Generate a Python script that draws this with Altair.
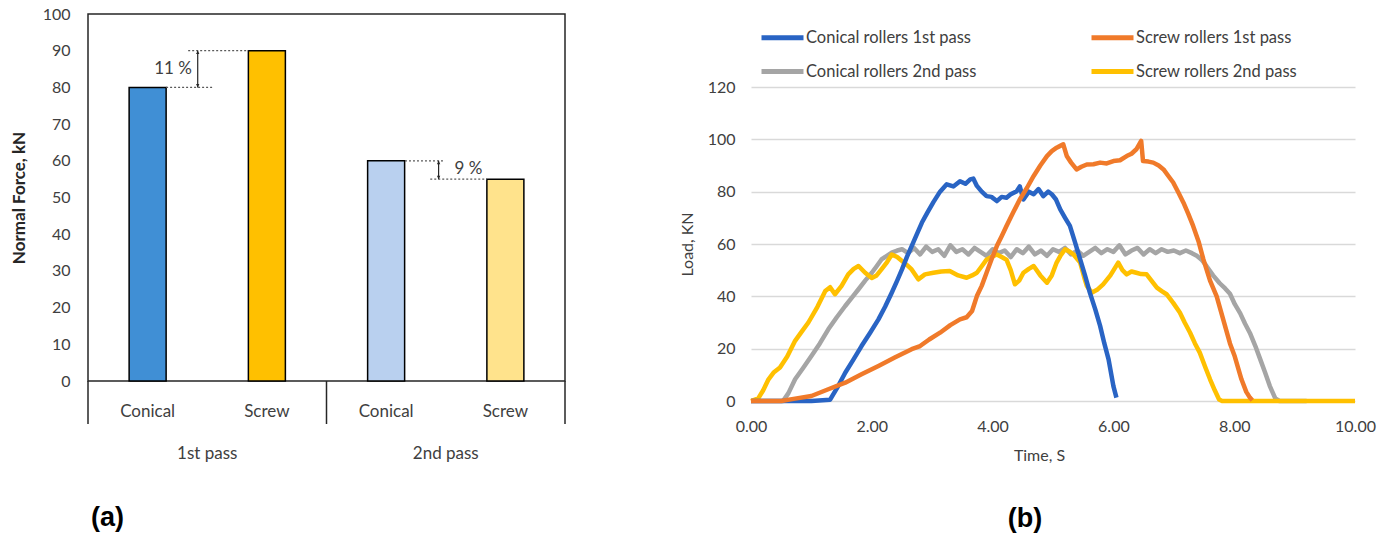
import altair as alt
import pandas as pd

FONT = "Lato"
TXT = "#404040"

# ---------------- Panel (a) data ----------------
bar_keys = ["1st pass|Conical", "1st pass|Screw", "2nd pass|Conical", "2nd pass|Screw"]
bar_cats = ["Conical", "Screw", "Conical", "Screw"]
bar_pass = ["1st pass", "1st pass", "2nd pass", "2nd pass"]
bar_force = [80, 90, 60, 55]
bar_colors = ["#408FD5", "#FFC000", "#B9D0EF", "#FFE38C"]
pass_names = ["1st pass", "2nd pass"]
pct_labels = ["11 %", "9 %"]
pct_hi = [90, 60]
pct_lo = [80, 55]

# ---------------- Panel (b) data ----------------
series_names = ["Conical rollers 1st pass", "Screw rollers 1st pass",
                "Conical rollers 2nd pass", "Screw rollers 2nd pass"]
series_colors = ["#2964C4", "#F07A2A", "#A5A5A5", "#FFC000"]

blue_t = [0.00, 1.00, 1.31, 1.45, 1.56, 1.70, 1.83, 1.97, 2.11, 2.22, 2.33, 2.42, 2.50, 2.58, 2.66, 2.75,
          2.83, 2.92, 3.02, 3.13, 3.24, 3.35, 3.46, 3.55, 3.63, 3.68, 3.74, 3.82, 3.90, 3.98, 4.07, 4.15,
          4.23, 4.30, 4.40, 4.45, 4.51, 4.60, 4.68, 4.76, 4.84, 4.92, 4.98, 5.05, 5.12, 5.20, 5.28, 5.36,
          5.45, 5.53, 5.61, 5.70, 5.78, 5.85, 5.92, 6.00, 6.05]
blue_L = [0, 0, 0.5, 6, 10.8, 16, 21, 26, 31.2, 36, 41.4, 46, 50.3, 55, 59.2, 64,
          68.2, 72, 76, 80, 82.8, 82, 84, 83, 84.7, 85, 82.2, 80, 78.3, 78, 76.4, 78,
          77.7, 79, 80.2, 82, 77, 80, 79, 81, 78.3, 80, 79, 77, 73.2, 70, 66.9, 61,
          54.1, 48, 41.4, 35, 28.7, 22, 15.9, 5.7, 1.3]

gray_t = [0.00, 0.53, 0.62, 0.73, 0.86, 1.00, 1.14, 1.28, 1.42, 1.56, 1.67, 1.78, 1.89, 2.00, 2.08, 2.16,
          2.25, 2.33, 2.42, 2.50, 2.60, 2.70, 2.80, 2.90, 3.00, 3.10, 3.20, 3.30, 3.40, 3.50, 3.60, 3.70,
          3.80, 3.90, 4.00, 4.10, 4.20, 4.30, 4.40, 4.50, 4.60, 4.70, 4.80, 4.90, 5.00, 5.10, 5.20, 5.30,
          5.40, 5.50, 5.60, 5.70, 5.80, 5.90, 6.00, 6.10, 6.20, 6.30, 6.40, 6.50, 6.60, 6.70, 6.80, 6.90,
          7.00, 7.10, 7.20, 7.30, 7.38, 7.46, 7.54, 7.65, 7.76, 7.85, 7.93, 8.01, 8.10, 8.18, 8.26, 8.35,
          8.43, 8.51, 8.59, 8.68, 8.75, 9.20]
gray_L = [0, 0, 3, 8.3, 12.5, 17.2, 22, 27.4, 32, 36.3, 39.5, 42.7, 46, 49, 51.5, 54.1,
          55.5, 56.7, 57.5, 58, 56.5, 58.5, 56, 59, 57, 58, 55.5, 59.5, 57, 58, 56, 58.5,
          57, 55.5, 58, 56.5, 57.5, 55, 58, 56.5, 59, 56, 57.5, 55.5, 58, 57, 58.5, 56,
          57.5, 55.5, 57, 58.5, 56.5, 58, 57, 59.5, 56, 57.5, 58.5, 56, 58, 56.5, 58, 57,
          57.5, 56.5, 57.5, 56.5, 55.5, 54, 51.6, 48, 45, 43, 41, 37, 33.5, 29.5, 26, 21,
          16, 11, 5.7, 1, 0, 0]

orange_t = [0.00, 0.50, 0.73, 1.00, 1.28, 1.56, 1.83, 2.11, 2.38, 2.66, 2.80, 2.95, 3.13, 3.30, 3.46, 3.57,
            3.66, 3.74, 3.82, 3.90, 3.98, 4.07, 4.15, 4.23, 4.34, 4.45, 4.57, 4.68, 4.79, 4.90, 4.98, 5.06,
            5.12, 5.17, 5.23, 5.30, 5.39, 5.47, 5.56, 5.67, 5.78, 5.89, 6.00, 6.11, 6.22, 6.30, 6.38, 6.46,
            6.49, 6.58, 6.66, 6.75, 6.83, 6.91, 6.99, 7.08, 7.16, 7.24, 7.32, 7.41, 7.49, 7.60, 7.71, 7.82,
            7.93, 8.01, 8.12, 8.20, 8.26, 8.30]
orange_L = [0, 0, 0.9, 1.9, 4.5, 7, 10.2, 13.4, 16.6, 19.8, 21, 23.5, 26.1, 29, 31.2, 32,
            34.4, 40.1, 44, 49, 54, 59.2, 63, 66.9, 72, 77, 81.5, 86, 90, 93.6, 95.5, 96.8,
            97.5, 98.1, 93.5, 91.1, 88.5, 89.5, 90.4, 90.5, 91.1, 90.8, 91.7, 92, 93.6, 94.5, 96.2, 99.4,
            91.7, 91.5, 91.1, 90, 88.5, 86, 83.5, 79.5, 75.8, 71.5, 66.9, 61, 54.1, 46, 40, 31,
            22, 17, 8.3, 3.5, 1.3, 0.3]

yellow_t = [0.00, 0.12, 0.20, 0.29, 0.38, 0.48, 0.60, 0.73, 0.84, 0.95, 1.10, 1.23, 1.31, 1.39, 1.50, 1.61,
            1.70, 1.78, 1.89, 2.00, 2.08, 2.16, 2.25, 2.33, 2.42, 2.50, 2.58, 2.66, 2.77, 2.88, 3.02, 3.15,
            3.29, 3.43, 3.57, 3.66, 3.74, 3.82, 3.90, 3.98, 4.07, 4.15, 4.23, 4.30, 4.37, 4.44, 4.51, 4.60,
            4.68, 4.79, 4.90, 4.98, 5.06, 5.12, 5.20, 5.28, 5.34, 5.45, 5.52, 5.56, 5.64, 5.73, 5.83, 5.95,
            6.08, 6.15, 6.22, 6.30, 6.38, 6.46, 6.55, 6.63, 6.72, 6.80, 6.88, 6.99, 7.10, 7.18, 7.27, 7.35,
            7.43, 7.52, 7.60, 7.68, 7.75, 7.80, 10.00]
yellow_L = [0, 1, 4, 8.3, 11, 12.8, 17, 23, 26.5, 30, 36, 42, 43.5, 40.8, 44, 48.4,
            50.5, 51.6, 49, 47, 48, 50.3, 53, 56, 55, 53.5, 52, 50.3, 46.5, 48.4, 49, 49.5,
            49.7, 48, 47.1, 48, 49, 51.5, 54, 55, 56, 55, 54, 50, 44.6, 46, 49, 50.5,
            51.6, 48, 45.2, 48, 52.9, 55.4, 58, 57, 56, 52.9, 47, 44, 41.4, 42.5, 44.6, 48,
            52.9, 50, 48.4, 49.5, 49, 48.5, 48.4, 46, 43.3, 42, 40.8, 37.5, 33.8, 30, 26.1, 22,
            18.5, 13, 8.3, 4, 0.6, 0, 0]

# ---------------- Panel (a) ----------------
WA, HA = 477, 367
df_bars = pd.DataFrame({"key": bar_keys, "cat": bar_cats, "pass": bar_pass, "force": bar_force})

xscale = alt.Scale(domain=bar_keys, paddingInner=0, paddingOuter=0)
yscale_a = alt.Scale(domain=[0, 100], nice=False)

# one axis definition shared by every layer so that the merged axis keeps these settings
xaxis_a = alt.Axis(labelExpr="split(datum.value, '|')[1]", labelAngle=0, ticks=False,
                   domain=False, labelPadding=22, labelFontSize=17, labelFont=FONT,
                   labelColor=TXT, title=None)
yaxis_a = alt.Axis(values=list(range(0, 101, 10)), ticks=False, domain=False, grid=False,
                   labelFlush=False, labelPadding=18, labelFontSize=16, labelFont=FONT,
                   labelColor=TXT, title="Normal Force, kN", titleFontSize=17,
                   titleFont=FONT, titleFontWeight="bold", titleColor="#262626",
                   titlePadding=14)


def XA(field, bp=None):
    if bp is None:
        return alt.X(field, scale=xscale, axis=xaxis_a)
    return alt.X(field, scale=xscale, axis=xaxis_a, bandPosition=bp)


def YA(field):
    return alt.Y(field, scale=yscale_a, axis=yaxis_a)


bars = alt.Chart(df_bars).mark_bar(size=37, stroke="black", strokeWidth=1.5).encode(
    x=XA("key:N"),
    y=YA("force:Q"),
    fill=alt.Fill("key:N", scale=alt.Scale(domain=bar_keys, range=bar_colors), legend=None),
)

# table lines below the axis (group separators)
df_sep_left = pd.DataFrame({"key": [bar_keys[0], bar_keys[2]]})
df_sep_right = pd.DataFrame({"key": [bar_keys[3]]})
sep_left = alt.Chart(df_sep_left).mark_rule(color="#262626", strokeWidth=1.5).encode(
    x=XA("key:N", 0), y=alt.value(HA), y2=alt.value(HA + 43))
sep_right = alt.Chart(df_sep_right).mark_rule(color="#262626", strokeWidth=1.5).encode(
    x=XA("key:N", 1), y=alt.value(HA), y2=alt.value(HA + 43))

df_groups = pd.DataFrame({"key": [bar_keys[1], bar_keys[3]], "pass": pass_names})
groups = alt.Chart(df_groups).mark_text(fontSize=17, font=FONT, color=TXT).encode(
    x=XA("key:N", 0), y=alt.value(HA + 73), text="pass:N")


def hline(k1, b1, k2, b2, v):
    d = pd.DataFrame({"key": [k1], "k2": [k2], "force": [v]})
    return alt.Chart(d).mark_rule(color="#595959", strokeWidth=1.2, strokeDash=[2, 2]).encode(
        x=XA("key:N", b1),
        x2=alt.X2("k2:N", bandPosition=b2),
        y=YA("force:Q"))


def arrow(k, b, lo, hi):
    d = pd.DataFrame({"key": [k], "force": [lo], "hi": [hi]})
    base = alt.Chart(d)
    shaft = base.mark_rule(color="#262626", strokeWidth=1.2).encode(
        x=XA("key:N", b), y=YA("force:Q"), y2="hi:Q")
    up = base.mark_point(shape="M0,0L-0.5,1L0.5,1Z", filled=True, size=45, color="#262626",
                         opacity=1).encode(x=XA("key:N", b), y=YA("hi:Q"))
    dn = base.mark_point(shape="M0,0L-0.5,-1L0.5,-1Z", filled=True, size=45, color="#262626",
                         opacity=1).encode(x=XA("key:N", b), y=YA("force:Q"))
    return shaft + up + dn


def pct_text(k, b, v, label):
    d = pd.DataFrame({"key": [k], "force": [v], "t": [label]})
    return alt.Chart(d).mark_text(fontSize=17, font=FONT, color=TXT).encode(
        x=XA("key:N", b), y=YA("force:Q"), text="t:N")


ann = (
    hline(bar_keys[0], 0.655, bar_keys[1], 0.05, pct_lo[0])
    + hline(bar_keys[0], 0.84, bar_keys[1], 0.345, pct_hi[0])
    + arrow(bar_keys[0], 0.92, pct_lo[0], pct_hi[0])
    + pct_text(bar_keys[0], 0.713, (pct_lo[0] + pct_hi[0]) / 2, pct_labels[0])
    + hline(bar_keys[2], 0.658, bar_keys[2], 0.99, pct_hi[1])
    + hline(bar_keys[2], 0.87, bar_keys[3], 0.345, pct_lo[1])
    + arrow(bar_keys[2], 0.94, pct_lo[1], pct_hi[1])
    + pct_text(bar_keys[3], 0.19, 57.8, pct_labels[1])
)

panel_a = alt.layer(bars, sep_left, sep_right, groups, ann).properties(
    width=WA, height=HA,
    view=alt.ViewBackground(stroke="#262626", strokeWidth=1.5),
    title=alt.TitleParams("(a)", orient="bottom", anchor="middle", dx=-219, offset=43,
                          fontSize=27, font="Liberation Sans", fontWeight="bold", color="black"),
)

# ---------------- Panel (b) ----------------
WB, HB = 604, 387
rows = []
for name, ts, ls in [(series_names[0], blue_t, blue_L), (series_names[1], orange_t, orange_L),
                     (series_names[2], gray_t, gray_L), (series_names[3], yellow_t, yellow_L)]:
    assert len(ts) == len(ls), name
    for t, l in zip(ts, ls):
        rows.append({"series": name, "t": t, "L": l})
df_lines = pd.DataFrame(rows)

color = alt.Color("series:N", scale=alt.Scale(domain=series_names, range=series_colors),
                  legend=alt.Legend(orient="none", legendX=671, legendY=0, columns=2,
                                    direction="horizontal",
                                    columnPadding=104, rowPadding=-7, symbolType="stroke",
                                    symbolStrokeWidth=5, symbolSize=1764, labelOffset=0,
                                    labelFontSize=16.5, labelFont=FONT, labelColor=TXT,
                                    labelLimit=400, title=None, padding=0))

xb = alt.X("t:Q", scale=alt.Scale(domain=[0, 10], nice=False),
           axis=alt.Axis(values=[0, 2, 4, 6, 8, 10], format=".2f", ticks=False, domain=False,
                         grid=False, labelFlush=False, labelPadding=17, labelFontSize=16,
                         labelFont=FONT, labelColor=TXT, title="Time, S", titleFontSize=16,
                         titleFont=FONT, titleFontWeight="normal", titleColor=TXT, titleX=288,
                         titlePadding=13))
yb = alt.Y("L:Q", scale=alt.Scale(domain=[0, 120], range=[HB, HB - 314], nice=False),
           axis=alt.Axis(values=list(range(0, 121, 20)), ticks=False, domain=False,
                         labelFlush=False, gridColor="#D9D9D9", gridWidth=1.5, labelPadding=16,
                         labelFontSize=16, labelFont=FONT, labelColor=TXT, title="Load, KN",
                         titleFontSize=16, titleFont=FONT, titleFontWeight="normal",
                         titleColor=TXT, titleY=HB - 157, titlePadding=12))

base_b = alt.Chart(df_lines)
layers = []
for name in [series_names[2], series_names[3], series_names[0], series_names[1]]:
    layers.append(base_b.transform_filter(alt.datum.series == name)
                  .mark_line(strokeWidth=4.5, strokeJoin="round")
                  .encode(x=xb, y=yb, color=color))

panel_b = alt.layer(*layers).properties(
    width=WB, height=HB,
    view=alt.ViewBackground(stroke=None),
    title=alt.TitleParams("(b)", orient="bottom", anchor="middle", dx=-28, offset=43,
                          fontSize=27, font="Liberation Sans", fontWeight="bold", color="black"),
)

chart = alt.hconcat(panel_a, panel_b, spacing=186, bounds="flush").properties(
    padding={"left": 9, "top": 5, "right": 5, "bottom": 5},
    background="white",
).configure_view(strokeWidth=1.5)

chart.save("out.html", embed_options={"renderer": "svg", "actions": False})
